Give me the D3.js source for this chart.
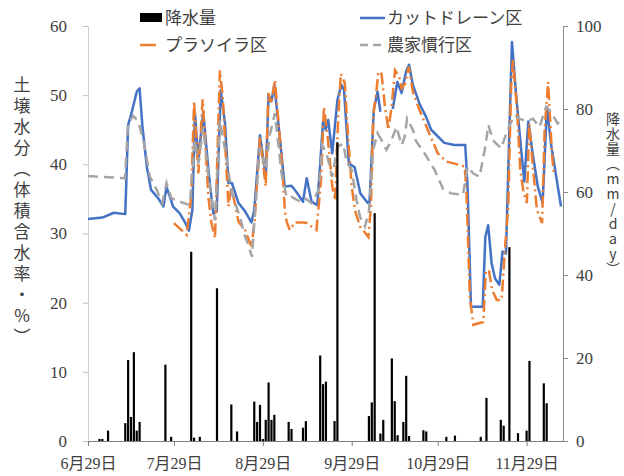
<!DOCTYPE html>
<html><head><meta charset="utf-8">
<script src="https://cdn.jsdelivr.net/npm/d3@7"></script>
<style>
html,body{margin:0;padding:0;background:#fff;}
svg{display:block;}
</style></head>
<body>
<svg id="c" width="624" height="476"></svg>
<script>
// ---- data (x = days since 6/29) ----
const monthTickDays = [0, 30, 61, 92, 122, 153];
const monthTickLabels = ["6月29日", "7月29日", "8月29日", "9月29日", "10月29日", "11月29日"];
const leftTicks = [0, 10, 20, 30, 40, 50, 60];
const rightTicks = [0, 20, 40, 60, 80, 100];

const rainDays = [4,5,7,13,14,15,16,17,18,27,29,36,37,39,45,50,52,58,59,60,61,62,63,64,65,70,71,75,76,81,82,83,86,87,98,99,100,102,103,106,107,108,110,111,112,117,118,125,128,137,139,144,145,147,150,153,154,159,160];
const rainVals = [0.5,0.5,2.5,4.3,19.5,5.8,21.4,2.5,4.6,18.4,1.0,45.6,0.8,1.0,36.8,8.8,2.3,9.5,4.6,8.7,0.5,5.1,14.1,5.1,6.3,4.6,2.9,3.2,4.8,20.6,13.7,14.3,4.8,72,6.0,9.3,54.9,1.8,5.1,19.9,9.6,1.4,4.6,15.7,1.2,2.6,2.3,1.0,1.3,1.0,10.4,5.1,3.7,46.7,1.9,2.5,19.3,13.9,9.1];

const cutDays = [0,5,9,13,14,15,17,18,19,20.5,22,24.5,26.3,27.4,28.6,29.7,32,34,35.2,36.4,37.3,38.5,40.2,42,43.7,44.9,46.3,47.8,49,50.2,52.5,54.8,57,58,60,62,63,64,65,67,68.6,71,72.7,75,76.3,78,80,82,82.9,83.8,85.2,87,88.4,89.3,91,93,95,97.6,98.2,99.7,101,102,104,106.3,107.9,109.4,111,112,113.3,114.6,115.6,117.9,119.7,124.3,127.8,131.6,132.4,133.6,137.7,138.6,139.6,140.8,142,143.5,144.6,145.8,147,147.9,149.3,151.1,152.2,153.6,155.1,156.9,158.6,160.1,161.5,165];
const cutVals = [32.1,32.3,33.0,32.8,45.7,47.1,50.5,51.0,45.4,39.7,36.3,35.1,33.9,36.7,35.3,33.9,32.9,31.5,30.4,33.4,47.4,40.6,47.6,39.2,32.9,33.2,50.7,45.9,37.3,37.3,34.4,33.2,31.6,33.4,44.2,38.2,50.0,49.1,51.5,43.5,36.8,36.9,36.0,34.6,38.0,34.6,34.1,46.2,45.0,46.4,41.6,49.3,51.5,50.8,40.1,39.6,35.8,34.4,34.4,47.9,50.5,47.6,null,48.0,51.9,50.3,53.5,54.4,51.5,50.0,48.8,46.9,45.0,43.1,42.8,42.8,36.8,19.4,19.4,29.5,31.2,25.7,23.5,22.6,27.4,27.1,45.0,57.7,50.3,42.1,37.5,46.2,41.6,36.8,34.4,48.3,43.0,33.9];

const plaDays = [30,34.4,36,37,38.5,40,42,43,44.3,46,47,49,50,52.5,54.8,57,58.1,60,62,62.9,64,65.2,67,68.1,68.7,69.3,70.4,72.1,75,76.8,78,79.7,81.3,82.3,83.6,85.2,86.2,87.3,88.2,89.6,90.8,92,93.1,94.9,97.8,98.7,99.5,100.7,101.3,102.4,103.6,104.8,105.9,107.1,108.5,109.4,110.6,111.9,113.3,115.6,118.5,122,125,127.9,131.4,132,133.2,134.4,137.9,138.8,139.9,141,142.6,144.3,145.5,146.6,147.6,148.2,149.6,150.8,151.9,153.1,153.9,155.1,156.6,158.4,159.3,160.5,161.9,162.6];
const plaVals = [31.5,29.8,35.3,49.1,38.7,49.4,35.3,31.7,29.3,53.6,49.8,33.9,36.8,31.7,30.5,28.1,31.7,44.0,36.8,50.3,48.8,52.2,43.5,37.3,33.2,31.7,30.5,31.6,31.6,31.5,31.0,30.5,37.7,48.3,44.0,36.8,34.8,46.9,53.1,51.7,43.5,36.8,33.4,31.0,29.5,33.9,46.9,51.0,53.4,53.1,48.3,45.0,48.3,53.6,52.7,51.0,51.7,54.1,50.5,47.9,45.0,41.6,40.4,40.1,39.7,36.3,20.9,16.8,17.2,24.7,24.5,21.8,20.4,20.4,28.1,33.9,51.2,55.1,48.3,39.2,36.0,34.4,45.9,40.1,33.4,31.5,45.0,51.9,41.1,38.5];

const farmDays = [0,12.9,14,15.8,17.5,19.3,21.6,24,25.9,27.4,29.1,32.1,35.5,37.3,38.5,40.2,42,44.3,46,47.8,50.2,53,54.8,56,57.2,58.1,60,62,63.4,65.2,67.5,69.3,71,74,75.7,78,80.5,81.7,83.2,85.2,87,89,90.2,92,93.7,94.9,96.6,98,99.5,101,102.4,104.1,105.9,107.6,109.4,110.5,111.3,113.3,114.5,117.4,120.9,123.8,126.7,130.8,132.5,134.3,136.6,138.4,139.7,141.2,144.1,146.4,148.8,150.5,152.9,155.2,157.5,159.8,161.5,163.8,165.5];
const farmVals = [38.3,38.0,45.9,47.0,46.2,43.5,38.2,36.3,34.4,37.3,35.1,34.6,34.1,43.5,40.1,45.4,38.2,31.9,46.4,42.1,35.8,32.4,29.5,28.3,26.6,32.4,42.5,39.2,44.2,47.4,38.7,35.3,35.3,34.6,35.1,34.4,36.3,42.8,41.6,38.2,42.5,43.0,40.4,39.2,34.8,32.4,31.0,33.2,42.1,44.5,43.5,42.1,43.5,45.4,42.8,44.0,46.6,45.0,43.3,41.6,39.2,36.5,35.8,35.6,39.7,38.7,38.2,42.1,45.7,43.5,42.3,45.0,47.1,46.6,46.2,46.6,45.4,48.3,47.6,45.9,46.6];

const legendNames = ["降水量", "カットドレーン区", "プラソイラ区", "農家慣行区"];
const leftTitle = "土壌水分（体積含水率・%）";
const rightTitle = "降水量（mm/day）";

// ---- layout ----
const L = 88, R = 563, T = 26, B = 441;
const svg = d3.select("#c");
const x = d3.scaleLinear().domain([0, 165.7]).range([L, R]);
const yL = d3.scaleLinear().domain([0, 60]).range([B, T]);
const yR = d3.scaleLinear().domain([0, 100]).range([B, T]);
const txt = "#404040";
const serif = "'Liberation Serif','Noto Sans CJK JP',serif";
const jp = "'Noto Sans CJK JP','Noto Sans',sans-serif";

// axes
const gL = svg.append("g").attr("transform", `translate(${L},0)`)
  .call(d3.axisLeft(yL).tickValues(leftTicks).tickSize(5).tickPadding(16));
gL.select(".domain").attr("stroke", "#d0d0d0");
gL.selectAll(".tick line").attr("stroke", "#bfbfbf");
gL.selectAll("text").attr("font-family", serif).attr("font-size", 17).attr("fill", txt);

const gR = svg.append("g").attr("transform", `translate(${R},0)`)
  .call(d3.axisRight(yR).tickValues(rightTicks).tickSize(5).tickPadding(8));
gR.select(".domain").attr("stroke", "#8c8c8c");
gR.selectAll(".tick line").attr("stroke", "#8c8c8c");
gR.selectAll("text").attr("font-family", serif).attr("font-size", 17).attr("fill", txt);

const gX = svg.append("g").attr("transform", `translate(0,${B})`)
  .call(d3.axisBottom(x).tickValues(monthTickDays).tickFormat((d, i) => monthTickLabels[i]).tickSize(5).tickSizeOuter(0).tickPadding(12));
gX.select(".domain").attr("stroke", "#7f7f7f");
gX.selectAll(".tick line").attr("stroke", "#7f7f7f");
gX.selectAll("text").attr("font-family", serif).attr("font-size", 16).attr("fill", txt);

// lines
function pts(days, vals) { return days.map((d, i) => [d, vals[i]]); }
const line = d3.line().defined(d => d[1] != null).x(d => x(d[0])).y(d => yL(d[1]));

svg.append("path").datum(pts(cutDays, cutVals)).attr("d", line)
  .attr("fill", "none").attr("stroke", "#4472C4").attr("stroke-width", 2.5).attr("stroke-linejoin", "round");
svg.append("path").datum(pts(plaDays, plaVals)).attr("d", line)
  .attr("fill", "none").attr("stroke", "#ED7D31").attr("stroke-width", 2.5)
  .attr("stroke-dasharray", "12,4,2,4");
svg.append("path").datum(pts(farmDays, farmVals)).attr("d", line)
  .attr("fill", "none").attr("stroke", "#A5A5A5").attr("stroke-width", 2.5)
  .attr("stroke-dasharray", "10,6");

// rain bars
const bw = 2.2;
svg.append("g").selectAll("rect").data(rainDays.map((d, i) => [d, rainVals[i]])).join("rect")
  .attr("x", d => x(d[0]) - bw / 2).attr("width", bw)
  .attr("y", d => yR(d[1])).attr("height", d => B - yR(d[1]))
  .attr("fill", "#000");

// legend
const lg = svg.append("g").attr("font-family", jp).attr("font-size", 17).attr("fill", txt);
lg.append("rect").attr("x", 140).attr("y", 13).attr("width", 22).attr("height", 9).attr("fill", "#000");
lg.append("text").attr("x", 165).attr("y", 24).text(legendNames[0]);
lg.append("line").attr("x1", 360).attr("x2", 385).attr("y1", 18).attr("y2", 18).attr("stroke", "#4472C4").attr("stroke-width", 2.5);
lg.append("text").attr("x", 387).attr("y", 24).text(legendNames[1]);
lg.append("line").attr("x1", 140).attr("x2", 156).attr("y1", 45).attr("y2", 45).attr("stroke", "#ED7D31").attr("stroke-width", 2.5);
lg.append("text").attr("x", 165).attr("y", 51).text(legendNames[2]);
lg.append("line").attr("x1", 360).attr("x2", 385).attr("y1", 45).attr("y2", 45).attr("stroke", "#A5A5A5").attr("stroke-width", 2.5).attr("stroke-dasharray", "8,5");
lg.append("text").attr("x", 387).attr("y", 51).text(legendNames[3]);

// axis titles (vertical)
svg.append("text").attr("x", 22).attr("y", 76)
  .attr("writing-mode", "vertical-rl").style("text-orientation", "upright")
  .attr("font-family", jp).attr("font-size", 17).attr("letter-spacing", 4).attr("fill", txt)
  .text(leftTitle);
svg.append("text").attr("x", 613).attr("y", 112)
  .attr("writing-mode", "vertical-rl").style("text-orientation", "upright")
  .attr("font-family", jp).attr("font-size", 14).attr("letter-spacing", 1).attr("fill", txt)
  .text(rightTitle);
</script>
</body></html>
